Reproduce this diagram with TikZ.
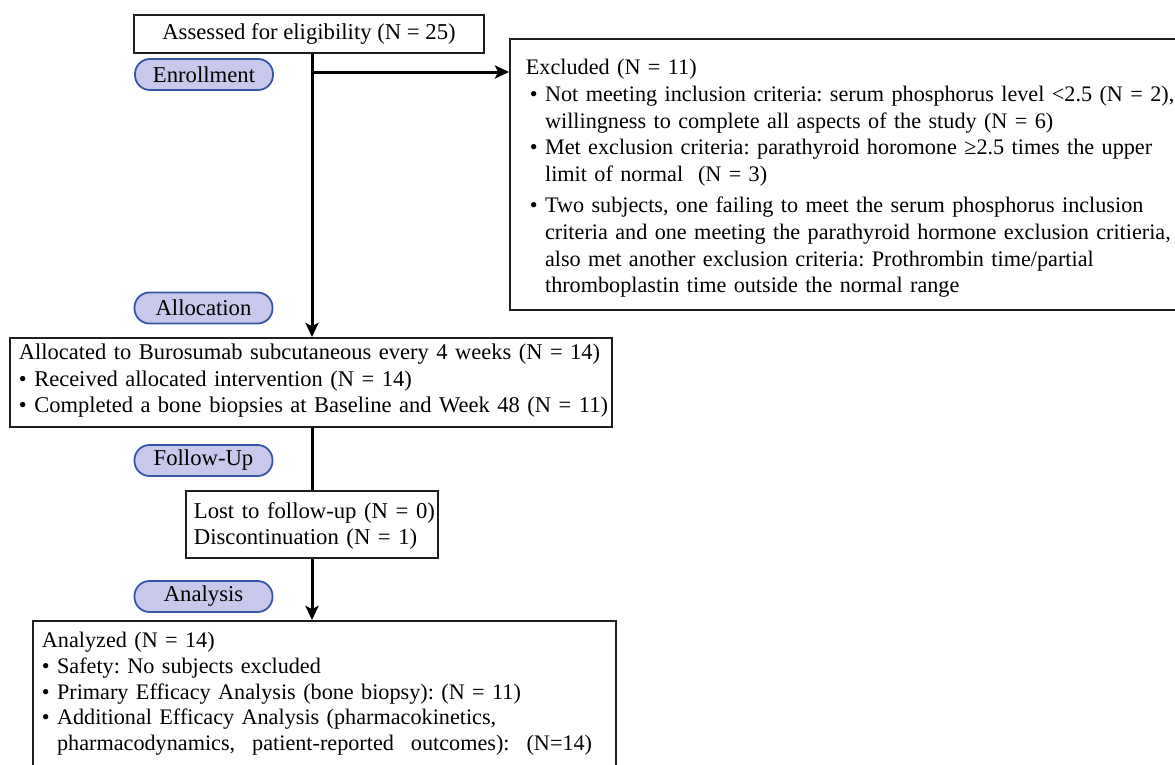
\documentclass[tikz,border=0pt]{standalone}
\usepackage{fontspec}
\setmainfont{Liberation Serif}
\usetikzlibrary{arrows.meta}
\definecolor{pillfill}{RGB}{200,200,236}
\definecolor{pillline}{RGB}{55,85,165}
\definecolor{boxline}{RGB}{30,30,30}
\newcommand\bu{\textbullet\ }
\newcommand\bi{\phantom{\textbullet\ }}
\newcommand\oneline[1]{\mbox{#1}}
\newcommand\wsp{\hspace{0.25em plus 1fil}}
\begin{document}
\frenchspacing
\begin{tikzpicture}[x=1pt,y=-1pt,
  every node/.style={font=\fontsize{22.7}{26.5}\selectfont},
  box/.style={draw=boxline, line width=1.8pt, rectangle},
  mbox/.style={box, anchor=north west, align=left, inner ysep=0pt,
    execute at begin node=\frenchspacing},
  pill/.style={draw=pillline, fill=pillfill, line width=1.8pt, rounded corners=15pt,
    minimum width=138pt, minimum height=31pt, inner sep=0pt},
  conn/.style={line width=3pt},
  arr/.style={conn, -{Stealth[length=14pt,width=13pt,inset=3pt]}}
]
\useasboundingbox (0,0) rectangle (1175,764);
\fill[white] (0,0) rectangle (1175,764);
\clip (0,0) rectangle (1175,764);

\node[box, minimum width=350pt, minimum height=38pt, inner sep=0pt] (assess) at (309,34) {Assessed for eligibility (N = 25)};

\node[pill] (penr) at (204,74.5) {Enrollment};
\node[pill] (palloc) at (203.5,308) {Allocation};
\node[pill] (pfup) at (203.5,460.5) {Follow-Up};
\node[pill] (pana) at (203.5,596.5) {Analysis};

% Excluded box: left 509, top 38, bottom 309, first baseline 74
\node[mbox, text width=700pt, inner xsep=16pt, text height=36pt, text depth=235pt,
  font=\fontsize{22.2}{26.6}\selectfont] (excl) at (509,38)
 {\oneline{Excluded (N = 11)}\\
  \oneline{\hspace*{4pt}\bu Not meeting inclusion criteria: serum phosphorus level <2.5 (N = 2),}\\
  \oneline{\hspace*{4pt}\bi willingness to complete all aspects of the study (N = 6)}\\
  \oneline{\hspace*{4pt}\bu Met exclusion criteria: parathyroid horomone ≥2.5 times the upper}\\
  \oneline{\hspace*{4pt}\bi limit of normal \ (N = 3)}\\[5pt]
  \oneline{\hspace*{4pt}\bu Two subjects, one failing to meet the serum phosphorus inclusion}\\
  \oneline{\hspace*{4pt}\bi criteria and one meeting the parathyroid hormone exclusion critieria,}\\
  \oneline{\hspace*{4pt}\bi also met another exclusion criteria: Prothrombin time/partial}\\
  \oneline{\hspace*{4pt}\bi thromboplastin time outside the normal range}};

% Allocated box: left 9, right 611, top 337, bottom 426, first baseline 359
\node[mbox, text width=584pt, inner xsep=9pt, text height=22pt, text depth=67pt,
  font=\fontsize{22.5}{26.5}\selectfont] (alloc) at (9,337)
 {\oneline{Allocated to Burosumab subcutaneous every 4 weeks (N = 14)}\\
  \oneline{\bu Received allocated intervention (N = 14)}\\
  \oneline{\bu Completed a bone biopsies at Baseline and Week 48 (N = 11)}};

% Lost box: left 185, right 437, top 490, bottom 557, first baseline 518
\node[mbox, text width=236pt, inner xsep=8pt, text height=28pt, text depth=39pt,
  font=\fontsize{22.7}{26}\selectfont] (lost) at (185,490)
 {\oneline{Lost to follow-up (N = 0)}\\
  \oneline{Discontinuation (N = 1)}};

% Analyzed box: left 32, right 615, top 620, first baseline 647
\node[mbox, text width=565pt, inner xsep=9pt, text height=27pt, text depth=200pt,
  font=\fontsize{22.2}{25.6}\selectfont] (anal) at (32,620)
 {\oneline{Analyzed (N = 14)}\\
  \oneline{\bu Safety: No subjects excluded}\\
  \oneline{\bu Primary Efficacy Analysis (bone biopsy): (N = 11)}\\
  \oneline{\bu Additional Efficacy Analysis (pharmacokinetics,}\\
  \oneline{\bi\makebox[535pt][s]{pharmacodynamics,\wsp patient-reported\wsp outcomes):\wsp (N=14)}}};

\coordinate (br) at (312,72);
\draw[arr] (br |- assess.south) -- (br |- alloc.north);
\draw[arr] (br) -- (br -| excl.west);
\draw[conn] (br |- alloc.south) -- (br |- lost.north);
\draw[arr] (br |- lost.south) -- (br |- anal.north);
\end{tikzpicture}
\end{document}
